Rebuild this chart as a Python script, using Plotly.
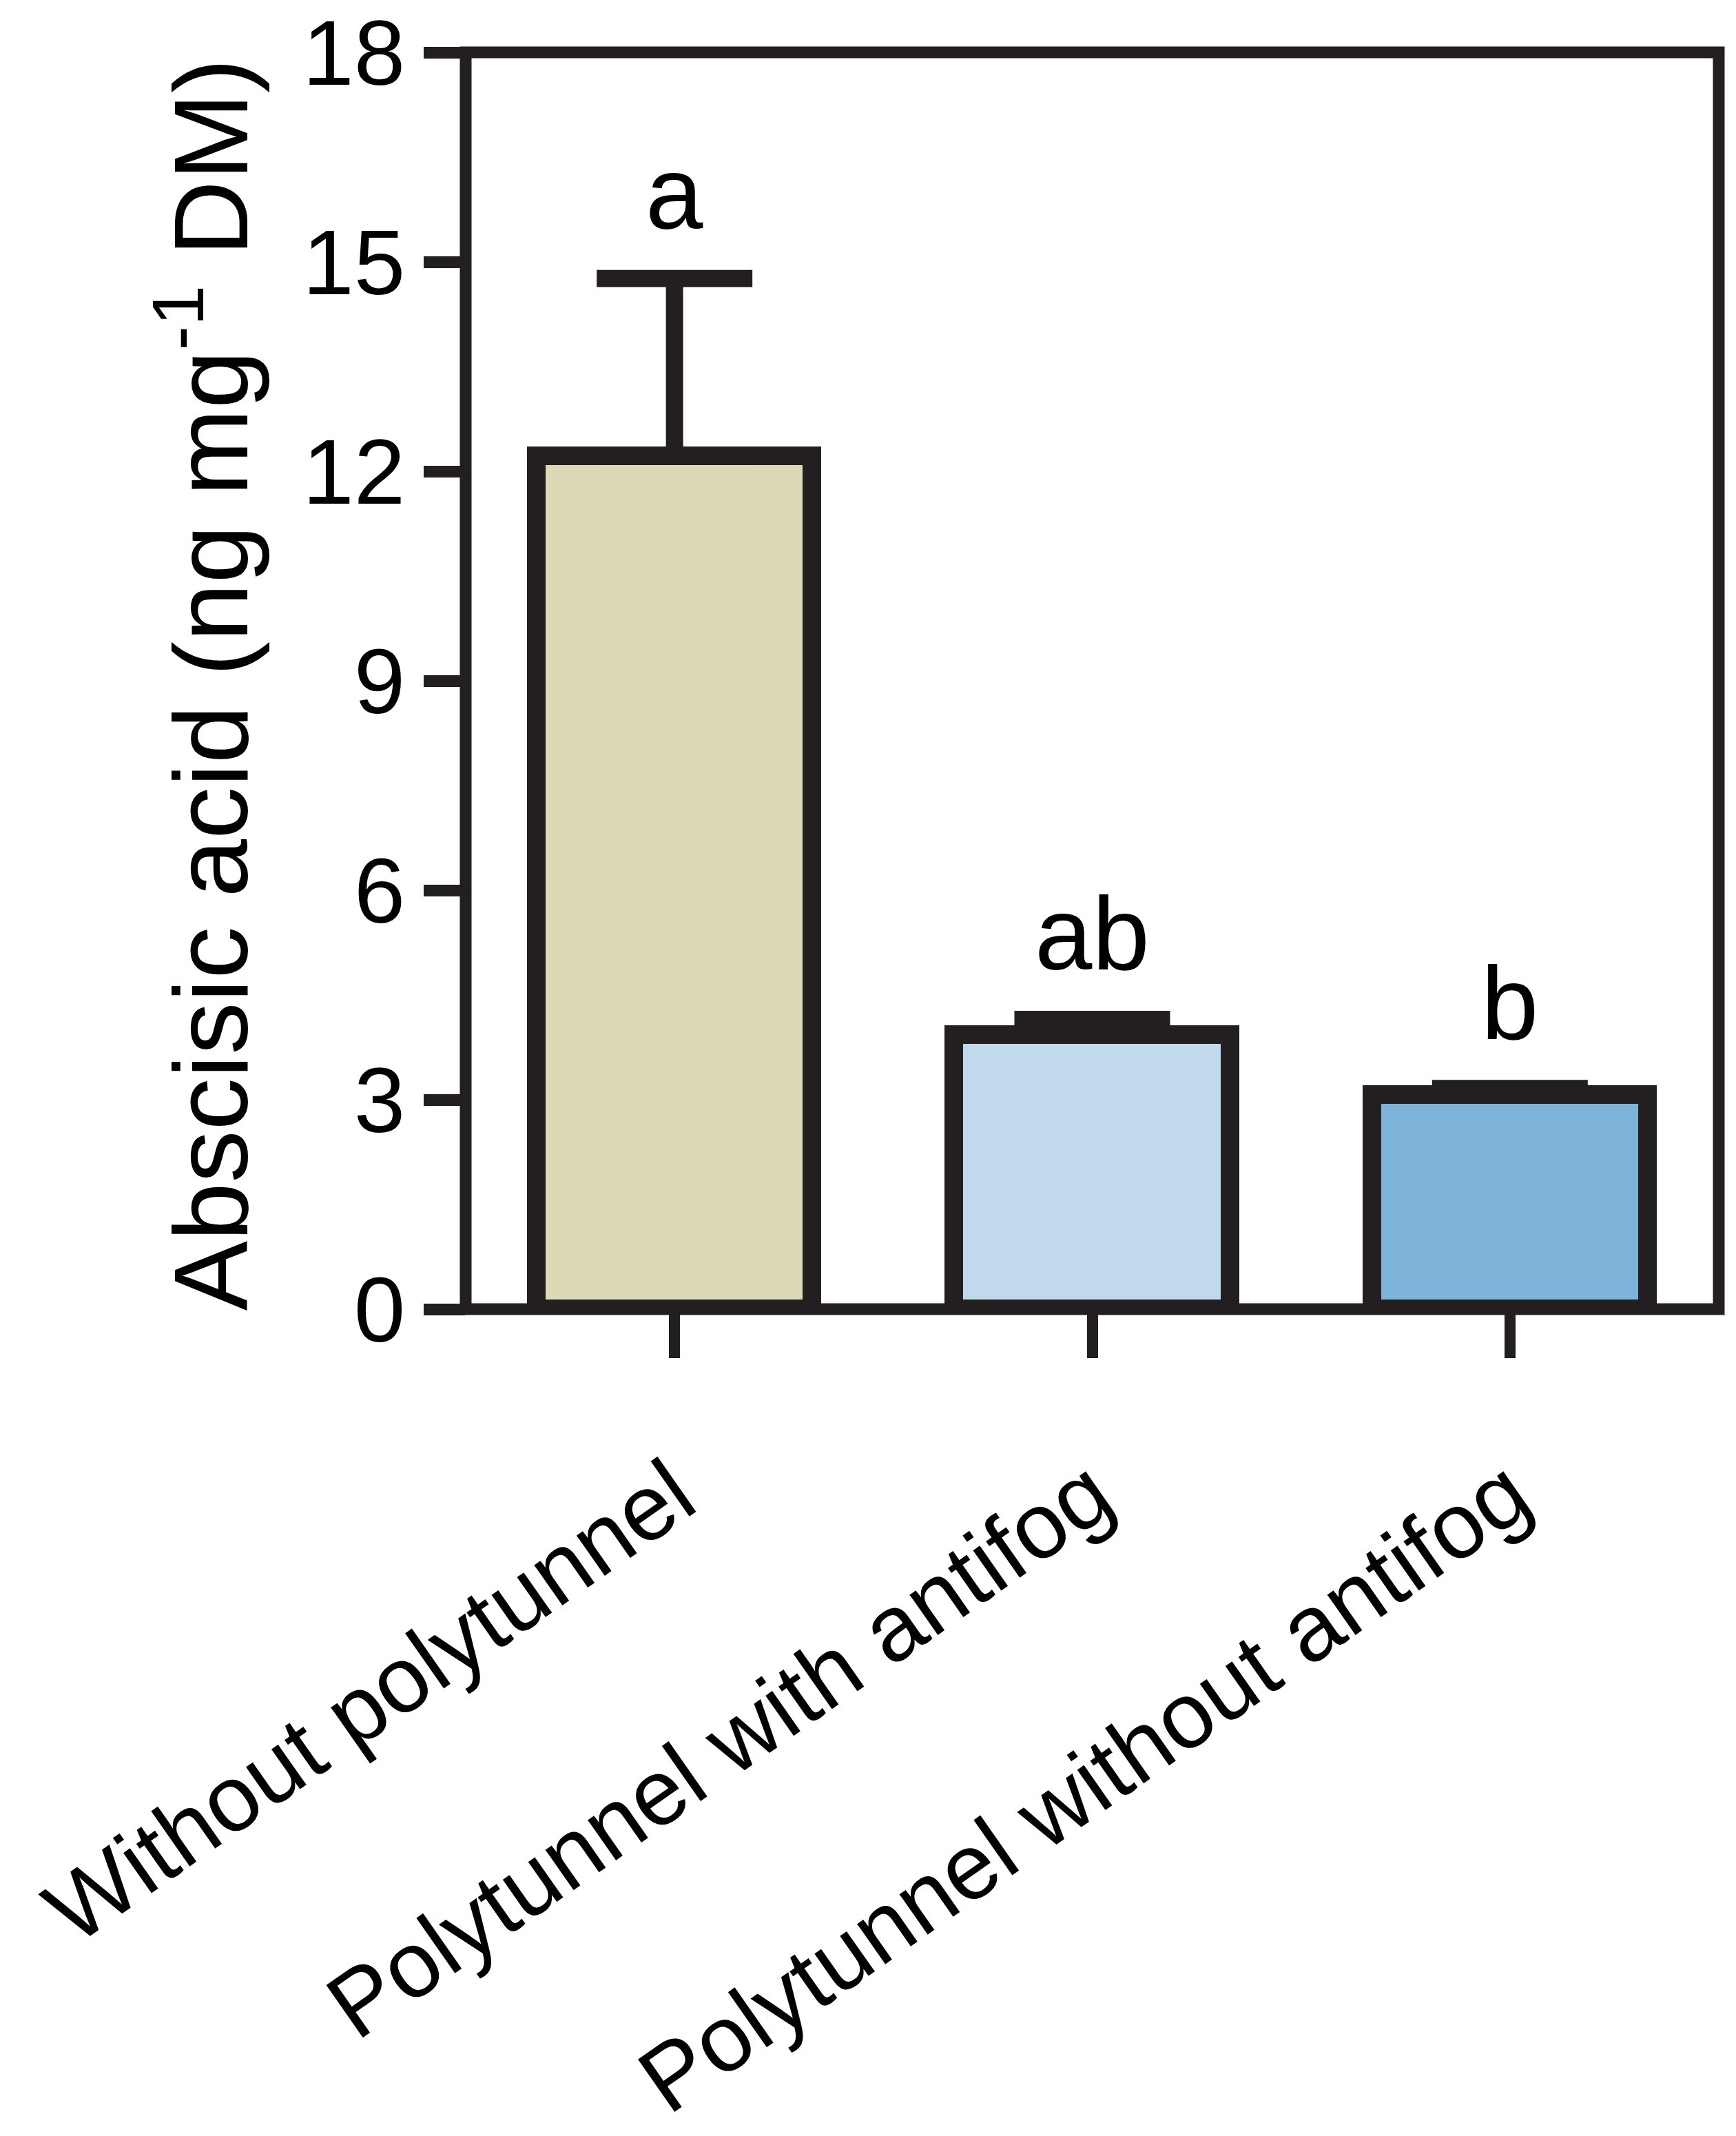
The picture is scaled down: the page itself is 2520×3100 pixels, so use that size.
import plotly.graph_objects as go

categories = ["Without polytunnel", "Polytunnel with antifog", "Polytunnel without antifog"]
means = [12.22, 3.93, 3.07]
sem = [2.54, 0.22, 0.09]
letters = ["a", "ab", "b"]
colors = ["#DDD9B6", "#C0DAEC", "#7EB4D9"]
y_ticks = [0, 3, 6, 9, 12, 15, 18]

INK = "#231F20"
FONT = "Liberation Sans, Arial, sans-serif"
NARROW = "Liberation Sans Narrow, Liberation Sans, Arial, sans-serif"

fig = go.Figure()
fig.add_trace(go.Bar(
    x=list(range(len(categories))),
    y=means,
    width=0.66,
    marker=dict(color=colors, line=dict(color=INK, width=27)),
    error_y=dict(type="data", array=sem, arrayminus=[0] * len(sem), symmetric=False,
                 color=INK, thickness=25, width=113),
    showlegend=False,
))

for i, (m, s, t) in enumerate(zip(means, sem, letters)):
    fig.add_annotation(x=i, y=m + s, text=t, showarrow=False, xref="x", yref="y",
                       yanchor="bottom", yshift=38,
                       font=dict(family=FONT, size=150, color="black"))

fig.add_annotation(x=-0.209, y=0.497, xref="paper", yref="paper",
                   text="Abscisic acid (ng mg<sup>-1</sup> DM)", textangle=-90,
                   showarrow=False, xanchor="center", yanchor="middle",
                   font=dict(family=FONT, size=152, color="black"))

# plot frame (box around the plotting area)
fig.add_shape(type="rect", xref="paper", yref="paper", x0=0, x1=1, y0=0, y1=1,
              line=dict(color=INK, width=17), layer="above")

fig.update_layout(
    template="none",
    width=2520, height=3100,
    margin=dict(l=668, r=33, t=68, b=1208),
    plot_bgcolor="white", paper_bgcolor="white",
    bargap=0,
    xaxis=dict(
        range=[-0.5, 2.5], automargin=False,
        tickmode="array", tickvals=list(range(len(categories))), ticktext=categories,
        tickangle=-35,
        ticks="outside", ticklen=70, tickwidth=16, tickcolor=INK,
        showline=False, showgrid=False, zeroline=False,
        tickfont=dict(family=FONT, size=135, color="black"),
        ticklabelstandoff=68, ticklabeloverflow="allow",
    ),
    yaxis=dict(
        range=[0, 18], automargin=False,
        tickmode="array", tickvals=y_ticks,
        ticks="outside", ticklen=60, tickwidth=17, tickcolor=INK,
        showline=False, showgrid=False, zeroline=False,
        tickfont=dict(family=NARROW, size=134, color="black"),
        ticklabeloverflow="allow",
    ),
)

fig.write_html("out.html")
